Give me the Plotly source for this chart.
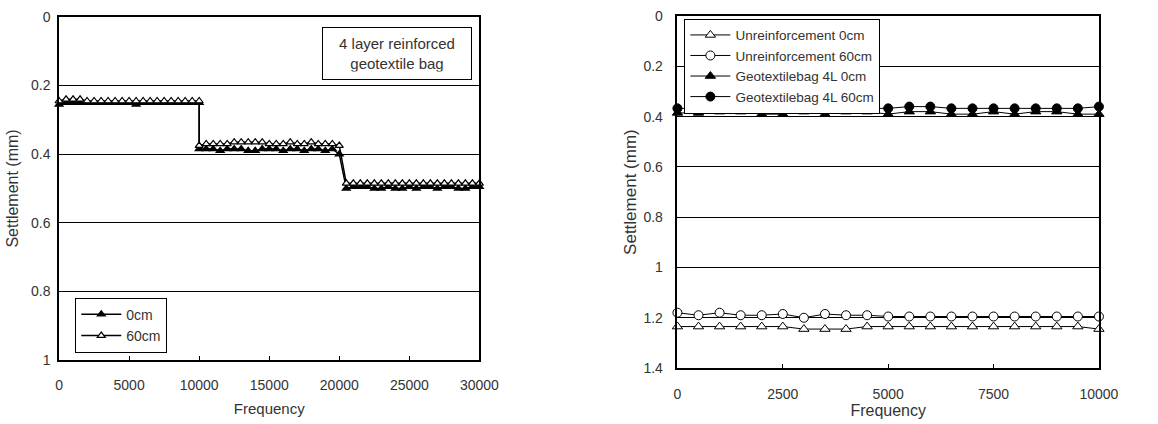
import plotly.graph_objects as go

# ---- left panel: 4 layer reinforced geotextile bag, three load stages ----
freq_left = ([i * 500 for i in range(0, 21)] +
             [10000 + i * 500 for i in range(0, 21)] +
             [20500 + i * 500 for i in range(0, 20)])

settle_0cm = (
    [0.255, 0.25, 0.25, 0.25, 0.25, 0.25, 0.25, 0.25, 0.25, 0.25, 0.25,
     0.255, 0.25, 0.25, 0.25, 0.25, 0.25, 0.25, 0.25, 0.25, 0.25] +
    [0.385, 0.385, 0.385, 0.39, 0.385, 0.385, 0.385, 0.39, 0.39, 0.385, 0.385,
     0.385, 0.39, 0.385, 0.385, 0.39, 0.385, 0.385, 0.39, 0.385, 0.40] +
    [0.50, 0.495, 0.495, 0.495, 0.50, 0.50, 0.495, 0.50, 0.50, 0.495,
     0.50, 0.495, 0.495, 0.50, 0.495, 0.495, 0.50, 0.50, 0.495, 0.495]
)
settle_60cm = (
    [0.245, 0.24, 0.24, 0.24, 0.245, 0.245, 0.245, 0.245, 0.245, 0.245, 0.245,
     0.245, 0.245, 0.245, 0.245, 0.245, 0.245, 0.245, 0.245, 0.245, 0.245] +
    [0.375, 0.37, 0.37, 0.37, 0.37, 0.365, 0.365, 0.365, 0.365, 0.365, 0.37,
     0.37, 0.37, 0.365, 0.37, 0.37, 0.365, 0.37, 0.37, 0.37, 0.375] +
    [0.485, 0.485, 0.485, 0.485, 0.485, 0.485, 0.485, 0.485, 0.485, 0.485,
     0.485, 0.485, 0.485, 0.485, 0.485, 0.485, 0.485, 0.485, 0.485, 0.485]
)

# ---- right panel: unreinforced vs geotextile bag 4L ----
freq_right = [i * 500 for i in range(0, 21)]
unreinf_0cm = [1.235, 1.235, 1.235, 1.235, 1.235, 1.235, 1.245, 1.245, 1.245, 1.235, 1.235,
               1.235, 1.235, 1.235, 1.235, 1.235, 1.235, 1.235, 1.235, 1.235, 1.245]
unreinf_60cm = [1.18, 1.19, 1.18, 1.19, 1.19, 1.185, 1.20, 1.185, 1.19, 1.19, 1.195,
                1.195, 1.195, 1.195, 1.195, 1.195, 1.195, 1.195, 1.195, 1.195, 1.195]
geobag_0cm = [0.385, 0.385, 0.38, 0.38, 0.39, 0.39, 0.38, 0.39, 0.38, 0.38, 0.39,
              0.38, 0.38, 0.39, 0.39, 0.38, 0.39, 0.38, 0.38, 0.39, 0.39]
geobag_60cm = [0.367, 0.367, 0.367, 0.36, 0.36, 0.36, 0.36, 0.36, 0.36, 0.367, 0.367,
               0.36, 0.36, 0.367, 0.367, 0.367, 0.367, 0.367, 0.367, 0.367, 0.36]

left_xticks = [0, 5000, 10000, 15000, 20000, 25000, 30000]
left_xticktext = ["0", "5000", "10000", "15000", "20000", "25000", "30000"]
right_xticks = [0, 2500, 5000, 7500, 10000]
right_xticktext = ["0", "2500", "5000", "7500", "10000"]
left_ticks = [0, 0.2, 0.4, 0.6, 0.8, 1]
left_ticktext = ["0", "0.2", "0.4", "0.6", "0.8", "1"]
right_ticks = [0, 0.2, 0.4, 0.6, 0.8, 1, 1.2, 1.4]
right_ticktext = ["0", "0.2", "0.4", "0.6", "0.8", "1", "1.2", "1.4"]

FONT = "Liberation Sans, Arial, sans-serif"
TXT = "#333333"

fig = go.Figure()

fig.add_trace(go.Scatter(
    x=freq_left, y=settle_0cm, name="0cm", mode="lines+markers",
    line=dict(color="black", width=1.5),
    marker=dict(symbol="triangle-up", size=9, color="black"),
    cliponaxis=False, xaxis="x", yaxis="y", legend="legend"))
fig.add_trace(go.Scatter(
    x=freq_left, y=settle_60cm, name="60cm", mode="lines+markers",
    line=dict(color="black", width=1.5),
    marker=dict(symbol="triangle-up", size=7, color="white",
                line=dict(color="black", width=1.2)),
    cliponaxis=False, xaxis="x", yaxis="y", legend="legend"))

right_series = [
    ("Unreinforcement 0cm", unreinf_0cm, "triangle-up", "white"),
    ("Unreinforcement 60cm", unreinf_60cm, "circle", "white"),
    ("Geotextilebag 4L 0cm", geobag_0cm, "triangle-up", "black"),
    ("Geotextilebag 4L 60cm", geobag_60cm, "circle", "black"),
]
for name, vals, sym, fill in right_series:
    fig.add_trace(go.Scatter(
        x=freq_right, y=vals, name=name, mode="lines+markers",
        line=dict(color="black", width=1),
        marker=dict(symbol=sym, size=9, color=fill,
                    line=dict(color="black", width=1)),
        cliponaxis=False, xaxis="x2", yaxis="y2", legend="legend2"))

axis_common = dict(
    showline=True, linecolor="black", linewidth=1.5, mirror=True,
    ticks="inside", ticklen=4, tickcolor="black", automargin=False,
    tickfont=dict(family=FONT, size=14, color=TXT), zeroline=False)

fig.update_layout(
    width=1158, height=424,
    margin=dict(l=0, r=0, t=0, b=0),
    paper_bgcolor="white", plot_bgcolor="white",
    font=dict(family=FONT, color=TXT, size=14),
    showlegend=True,
    xaxis=dict(domain=[0.051, 0.414], range=[0, 30000], anchor="y",
               tickvals=left_xticks, ticktext=left_xticktext,
               showgrid=False, ticklabelstandoff=11,
               title=dict(text="Frequency", standoff=12,
                          font=dict(family=FONT, size=15, color=TXT)),
               **axis_common),
    yaxis=dict(domain=[0.151, 0.960], range=[1, 0], anchor="x",
               tickvals=left_ticks, ticktext=left_ticktext,
               showgrid=True, gridcolor="black", gridwidth=1,
               ticklabelstandoff=4,
               title=dict(text="Settlement (mm)", standoff=8,
                          font=dict(family=FONT, size=16, color=TXT)),
               **axis_common),
    xaxis2=dict(domain=[0.585, 0.949], range=[0, 10000], anchor="y2",
                tickvals=right_xticks, ticktext=right_xticktext,
                showgrid=False, ticklabelstandoff=12,
                title=dict(text="Frequency", standoff=2,
                           font=dict(family=FONT, size=16, color=TXT)),
                **axis_common),
    yaxis2=dict(domain=[0.132, 0.962], range=[1.4, 0], anchor="x2",
                tickvals=right_ticks, ticktext=right_ticktext,
                showgrid=True, gridcolor="black", gridwidth=1,
                ticklabelstandoff=10,
                title=dict(text="Settlement (mm)", standoff=2,
                           font=dict(family=FONT, size=17, color=TXT)),
                **axis_common),
    legend=dict(x=0.065, y=0.168, xanchor="left", yanchor="bottom",
                bgcolor="white", bordercolor="black", borderwidth=1,
                font=dict(family=FONT, size=14, color=TXT),
                tracegroupgap=0, itemwidth=40),
    legend2=dict(x=0.591, y=0.956, xanchor="left", yanchor="top",
                 bgcolor="white", bordercolor="black", borderwidth=1,
                 font=dict(family=FONT, size=13.5, color=TXT),
                 tracegroupgap=0, itemwidth=40),
    annotations=[dict(
        text="4 layer reinforced<br>geotextile bag",
        xref="paper", yref="paper", x=0.3425, y=0.874,
        xanchor="center", yanchor="middle", showarrow=False,
        font=dict(family=FONT, size=15, color=TXT),
        bordercolor="black", borderwidth=1, borderpad=7, bgcolor="white",
        width=134)],
)

fig.write_html("out.html")
